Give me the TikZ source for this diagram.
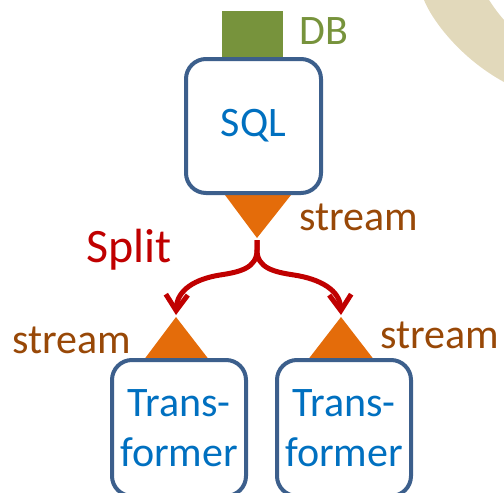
\documentclass[tikz,border=0pt]{standalone}
\usepackage{fontspec}
\setmainfont{Carlito}
\usetikzlibrary{arrows.meta}

\definecolor{boxblue}{RGB}{60,95,140}
\definecolor{textblue}{RGB}{0,112,192}
\definecolor{streamorange}{RGB}{228,108,10}
\definecolor{streambrown}{RGB}{152,72,7}
\definecolor{dbgreen}{RGB}{119,147,60}
\definecolor{splitred}{RGB}{192,0,0}
\definecolor{backbeige}{RGB}{226,217,187}

\begin{document}
\begin{tikzpicture}[x=1pt,y=-1pt,
  procbox/.style={draw=boxblue, line width=4pt, rounded corners=20pt, fill=white,
    text=textblue, font=\fontsize{42}{50}\selectfont, align=center, inner sep=0pt},
  streamlbl/.style={text=streambrown, font=\fontsize{42}{50}\selectfont, anchor=base west, inner sep=0pt},
  splitarrow/.style={draw=splitred, line width=5pt, -{Straight Barb[length=16pt,width=22pt]}}]
  \clip (0,0) rectangle (504,493);

  % background swoosh
  \fill[backbeige] (424,0) .. controls (432,20) and (460,58) .. (504,82)
    -- (504,20) .. controls (497,12) and (493,6) .. (489,0) -- cycle;

  % stream triangles
  \fill[streamorange] (225,195) -- (291,195) -- (257,238) -- cycle;
  \fill[streamorange] (143,361) -- (210,361) -- (176,317) -- cycle;
  \fill[streamorange] (307,361) -- (375,361) -- (341,317) -- cycle;

  % source and transformers
  \fill[dbgreen] (222,11) rectangle (283,57);
  \node[procbox, minimum width=135pt, minimum height=134pt] (sql) at (253.5,126) {SQL};
  \node[procbox, minimum width=134pt, minimum height=136pt] (transl) at (179,428) {Trans-\\former};
  \node[procbox, minimum width=134pt, minimum height=136pt] (transr) at (344,428) {Trans-\\former};

  % labels
  \node[text=dbgreen, font=\fontsize{42}{50}\selectfont, anchor=base west, inner sep=0pt] (db) at (299,44) {DB};
  \node[streamlbl] (outtop) at (299,230) {stream};
  \node[streamlbl] (inleft) at (12,353) {stream};
  \node[streamlbl] (inright) at (380,348) {stream};
  \node[text=splitred, font=\fontsize{48}{56}\selectfont, anchor=base west, inner sep=0pt] (split) at (86,262) {Split};

  % split arrows
  \coordinate (splitsrc) at (257,240);
  \coordinate (splitmid) at (257,250);
  \coordinate (tipl) at (176,315);
  \coordinate (tipr) at (341,315);
  \draw[splitarrow] (splitsrc) -- (splitmid) .. controls (257,268) and (240,272) .. (220,275)
    .. controls (195,279) and (177,290) .. (tipl);
  \draw[splitarrow] (splitsrc) -- (splitmid) .. controls (257,268) and (274,272) .. (294,275)
    .. controls (320,279) and (340,290) .. (tipr);
\end{tikzpicture}
\end{document}
